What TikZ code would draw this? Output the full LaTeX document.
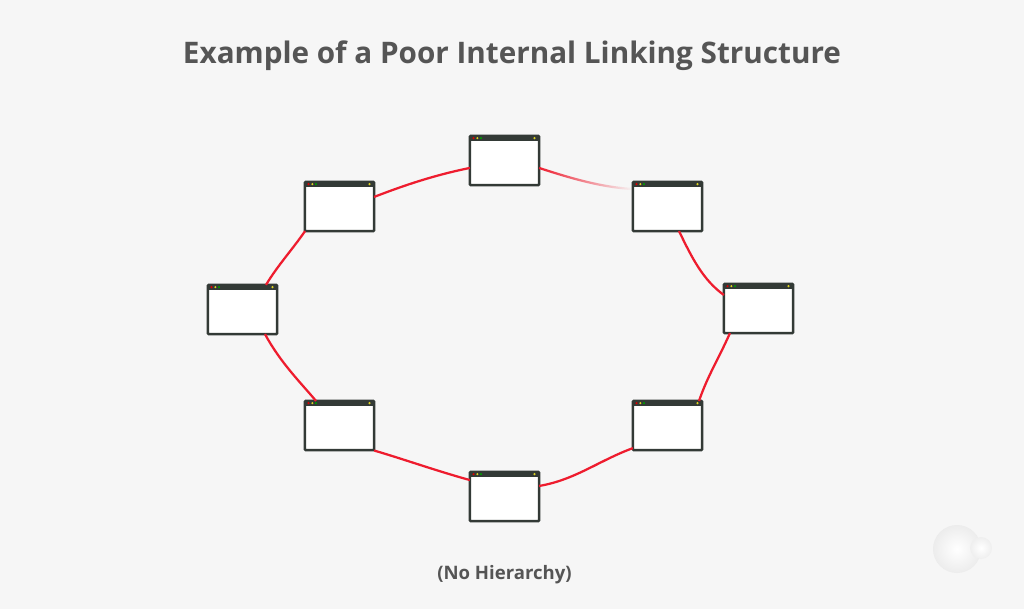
\documentclass[tikz,border=0pt]{standalone}
\usepackage{fontspec}
\setmainfont{Open Sans}
\usetikzlibrary{fadings}
\definecolor{bgcol}{HTML}{F6F6F6}
\definecolor{framecol}{HTML}{333A36}
\definecolor{titlecol}{HTML}{555555}
\definecolor{linkcol}{HTML}{EE1C2E}
\tikzfading[name=linkfade, left color=transparent!0, middle color=transparent!0, right color=transparent!100]
\tikzset{
	page/.style={draw=framecol, fill=white, line width=1.8pt, rounded corners=.6pt, minimum width=1.73cm, minimum height=1.23cm, inner sep=0, outer sep=0},
	link/.style={draw=linkcol, line width=1.6pt}
}
\begin{document}
\begin{tikzpicture}[x=.025cm,y=-.025cm]
	\fill[bgcol] (0,0) rectangle (1024,609);
	\useasboundingbox (0,0) rectangle (1024,609);
	% corner bubbles
	\shade[inner color=white, outer color=bgcol!96!black] (957,549) circle (24);
	\shade[inner color=white, outer color=bgcol!97!black] (981,548) circle (11);
	\node[text=titlecol, font=\bfseries\fontsize{21.1}{25}\selectfont] (title) at (512,56) {Example of a Poor Internal Linking Structure};
	\node[text=titlecol, font=\bfseries\fontsize{13.2}{16}\selectfont] (note) at (504.5,575) {(No Hierarchy)};
	% pages
	\foreach \name/\px/\py in {top/504.5/160.5, nw/339.5/206.5, ne/667.5/206.5, w/242.5/309.5, e/758.5/308.5, sw/339.5/425.5, se/667.5/425.5, s/504.5/496.5}{
		\node[page] (\name) at (\px,\py) {};
		\fill[framecol] (\name.north west) rectangle ([yshift=-3.8pt]\name.north east);
		\fill[red!85!black] ([xshift=2.6pt,yshift=-1.6pt]\name.north west) circle (1.2);
		\fill[yellow!85!black] ([xshift=5.3pt,yshift=-1.6pt]\name.north west) circle (1.2);
		\fill[green!60!black] ([xshift=7.9pt,yshift=-1.6pt]\name.north west) circle (1.2);
		\fill[yellow!85!black] ([xshift=-3.3pt,yshift=-1.6pt]\name.north east) circle (1.2);
	}
	% links
	\coordinate (neend) at (632,189);
	\draw[link] ([yshift=-5.3pt]top.west) .. controls (435,175) and (405,185) .. ([yshift=6.8pt]nw.east);
	\path[draw=linkcol, line width=1.6pt, path fading=linkfade] ([yshift=-5.3pt]top.east) .. controls (570,178) and (600,187) .. (neend);
	\draw[link] ([xshift=8.2pt]ne.south) .. controls (692,258) and (703,280) .. ([yshift=9.6pt]e.west);
	\draw[link] ([xshift=-20.3pt]e.south) .. controls (718,360) and (708,375) .. ([xshift=22.4pt]se.north);
	\draw[link] ([yshift=1.4pt]se.south west) .. controls (600,460) and (575,480) .. ([yshift=7.5pt]s.east);
	\draw[link] ([yshift=11.7pt]s.west) .. controls (440,472) and (400,458) .. ([yshift=-17.8pt]sw.east);
	\draw[link] ([xshift=-16.7pt]sw.north) .. controls (300,382) and (280,362) .. ([xshift=16pt]w.south);
	\draw[link] ([xshift=16.7pt]w.north) .. controls (278,265) and (292,250) .. ([xshift=-24.5pt]nw.south);
\end{tikzpicture}
\end{document}
